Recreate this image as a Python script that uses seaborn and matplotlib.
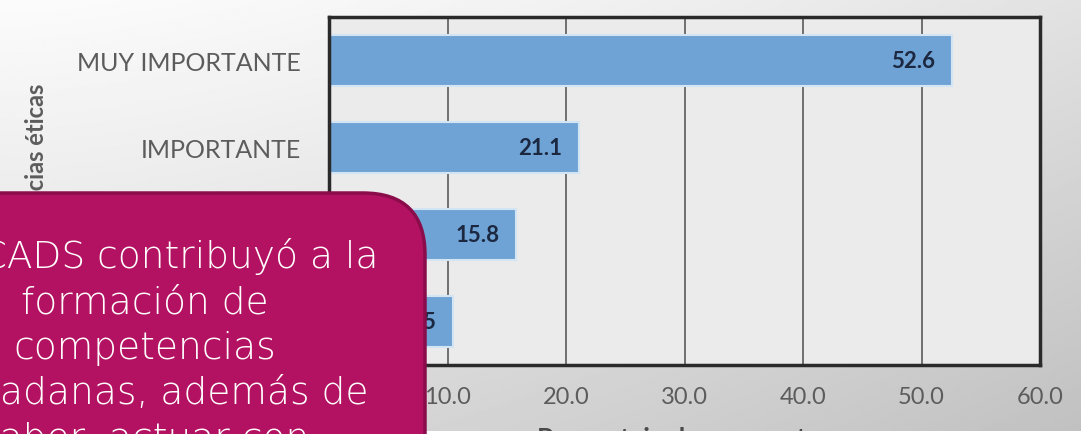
import numpy as np
import pandas as pd
import matplotlib
matplotlib.use('Agg')
import matplotlib.pyplot as plt
import seaborn as sns
from matplotlib.patches import FancyBboxPatch, Rectangle

# data
categories = ['MUY IMPORTANTE', 'IMPORTANTE', 'POCO IMPORTANTE', 'NADA IMPORTANTE']
values = [52.6, 21.1, 15.8, 10.5]
x_ticks = [0, 10, 20, 30, 40, 50, 60]
x_tick_labels = ['0.0', '10.0', '20.0', '30.0', '40.0', '50.0', '60.0']
x_label = 'Porcentaje de respuestas'
y_label = 'Competencias éticas'
box_lines = [
    'El PCADS contribuyó a la',
    'formación de',
    'competencias',
    'ciudadanas, además de',
    'saber, actuar con',
]

W, H = 1081, 435
BAR_COLOR = '#6fa3d5'
TEXT_GRAY = '#5c5c5c'

sns.set_theme(style='white')
plt.rcParams['font.family'] = ['Lato', 'DejaVu Sans']

fig = plt.figure(figsize=(W / 100, H / 100), dpi=100)

# slide background: light grey gradient, brighter at the top left
bg = fig.add_axes([0, 0, 1, 1], zorder=-2)
yy, xx = np.mgrid[0:1:200j, 0:1:400j]
shade = 0.985 - 0.10 * xx ** 1.5 - 0.13 * yy
bg.imshow(shade, cmap='gray', vmin=0, vmax=1, aspect='auto')
bg.axis('off')

# main chart
ax = fig.add_axes([329 / W, 69 / H, 711 / W, 348 / H])
ax.set_facecolor('#ebebeb')
df = pd.DataFrame({'categoria': categories, 'valor': values})
sns.barplot(data=df, x='valor', y='categoria', orient='h', color=BAR_COLOR,
            saturation=1, width=0.58, edgecolor='#d3e4f3', linewidth=1.5, ax=ax)

ax.set_xlim(0, 60)
ax.set_ylim(3.5, -0.5)
ax.set_xticks(x_ticks)
ax.set_xticklabels(x_tick_labels)
ax.xaxis.grid(True, color='#5a5a5a', linewidth=1.2)
ax.yaxis.grid(False)
ax.set_axisbelow(True)

for side in ['top', 'bottom', 'left', 'right']:
    ax.spines[side].set_visible(True)
    ax.spines[side].set_color('#2a2a2a')
    ax.spines[side].set_linewidth(2.5)

ax.tick_params(axis='x', length=0, labelsize=17, labelcolor=TEXT_GRAY, pad=15)
ax.tick_params(axis='y', length=0, labelsize=18, labelcolor=TEXT_GRAY, pad=20)

# value labels inside the bar ends
for i, v in enumerate(values):
    ax.annotate(f'{v:.1f}', xy=(v, i), xytext=(-17, 0), textcoords='offset pixels',
                ha='right', va='center', fontsize=16, fontweight='bold', color='#1c2740')

# x label sits mostly below the bottom edge, only its top shows
ax.set_xlabel(x_label, fontsize=19, fontweight='bold', color='#4a4a4a')
ax.xaxis.set_label_coords(0.5, -0.174)
ax.set_ylabel(y_label, fontsize=17, fontweight='bold', color=TEXT_GRAY)
ax.yaxis.set_label_coords(-0.395, 0.5)

# overlay in pixel coordinates: white strip at the bottom and the magenta callout
ov = fig.add_axes([0, 0, 1, 1], zorder=10)
ov.set_xlim(0, W)
ov.set_ylim(H, 0)
ov.axis('off')
ov.patch.set_alpha(0)
ov.add_patch(Rectangle((0, 432), W, 10, facecolor='white', edgecolor='none', zorder=1))
box = FancyBboxPatch((-100, 194), 525, 400, boxstyle='round,pad=0,rounding_size=62',
                     facecolor='#b31262', edgecolor='#8a0c4b', linewidth=2.5, zorder=2)
ov.add_patch(box)
for i, line in enumerate(box_lines):
    ov.text(145, 268 + i * 45.5, line, ha='center', va='baseline', fontsize=27,
            color='white', family='DejaVu Sans', fontweight='light', zorder=3)

fig.savefig('out.png', dpi=100)
plt.close(fig)
